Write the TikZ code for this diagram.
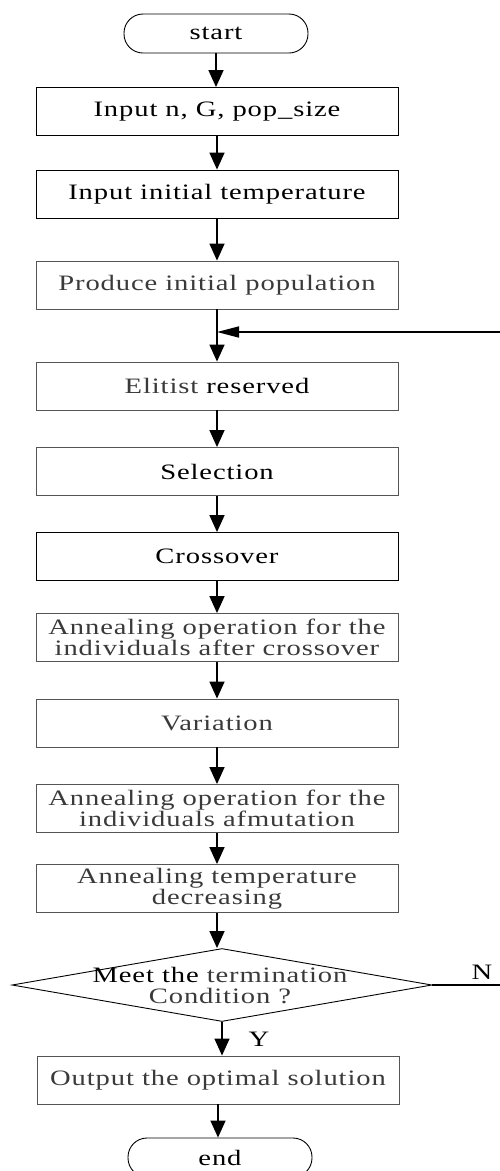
\documentclass[tikz,border=0pt]{standalone}
\usepackage{fontspec}
\setmainfont[FakeStretch=1.3,LetterSpace=4]{Liberation Serif}
\usetikzlibrary{arrows.meta,shapes.geometric}
\definecolor{tg}{HTML}{3A3A3A}
\definecolor{bg}{HTML}{555555}
\begin{document}
\begin{tikzpicture}[x=1pt,y=-1pt,
  txt/.style={inner sep=0pt, align=center, font=\fontsize{22}{21}\selectfont},
  proc/.style={txt, draw, line width=0.9pt, minimum width=362pt, minimum height=48pt},
  term/.style={txt, draw, line width=0.9pt, rounded corners=19pt, minimum width=184pt, minimum height=39pt},
  arr/.style={line width=1.6pt, -{Triangle[length=17pt,width=15pt]}},
  harr/.style={line width=1.6pt, -{Triangle[length=22pt,width=11pt]}},
  plain/.style={line width=1.6pt}]
\useasboundingbox (0,0) rectangle (500,1171);
\clip (0,0) rectangle (500,1171);
\node[term] (start) at (216,33.5) {start};
\node[proc] (b1) at (217,111.5) {Input n, G, pop\_size};
\node[proc] (b2) at (217,194) {Input initial temperature};
\node[proc, draw=bg, text=tg] (b3) at (217,285) {Produce initial population};
\node[proc, draw=bg] (b4) at (217,386) {{\color{tg}Elitist} reserved};
\node[proc, draw=bg] (b5) at (217,471.5) {Selection};
\node[proc] (b6) at (217,556.5) {Crossover};
\node[proc, draw=bg, text=tg] (b7) at (217,637.5) {Annealing operation for the\\individuals after crossover};
\node[proc, draw=bg, text=tg] (b8) at (217,723) {Variation};
\node[proc, draw=bg, text=tg] (b9) at (217,808.5) {Annealing operation for the\\individuals afmutation};
\node[proc, draw=bg, text=tg] (b10) at (217,888.5) {Annealing temperature\\decreasing};
\node[diamond, draw, line width=0.9pt, inner sep=0pt, aspect=5.75, minimum width=420pt, minimum height=73pt] (dec) at (222,985) {};
\node[txt, text=tg] (dect) at (220,986) {{\color{black}Meet the} termination\\Condition ?};
\node[proc, draw=bg, text=tg] (b11) at (218,1080) {Output the optimal solution};
\node[term] (end) at (220,1157.5) {end};
\node[txt] (N) at (482,972) {N};
\node[txt] (Y) at (259,1039) {Y};
\coordinate (fbs) at (500,332);
\coordinate (nend) at (500,985);
\draw[arr] (start.south) -- (start.south |- b1.north);
\draw[arr] (b1.south) -- (b1.south |- b2.north);
\draw[arr] (b2.south) -- (b2.south |- b3.north);
\draw[arr] (b3.south) -- (b3.south |- b4.north);
\draw[arr] (b4.south) -- (b4.south |- b5.north);
\draw[arr] (b5.south) -- (b5.south |- b6.north);
\draw[arr] (b6.south) -- (b6.south |- b7.north);
\draw[arr] (b7.south) -- (b7.south |- b8.north);
\draw[arr] (b8.south) -- (b8.south |- b9.north);
\draw[arr] (b9.south) -- (b9.south |- b10.north);
\draw[arr] (b10.south) -- (b10.south |- dec.north);
\draw[arr] (dec.south) -- (dec.south |- b11.north);
\draw[arr] (b11.south) -- (b11.south |- end.north);
\draw[harr] (fbs) -- (fbs -| b3.south);
\draw[plain] (dec.east) -- (nend);
\end{tikzpicture}
\end{document}
